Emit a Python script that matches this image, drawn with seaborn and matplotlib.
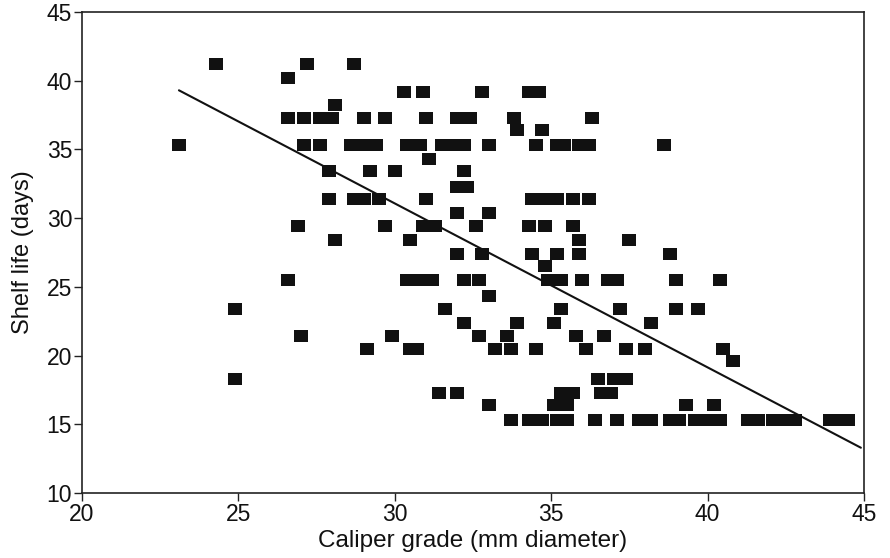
import matplotlib
matplotlib.use("Agg")
import matplotlib.pyplot as plt
import seaborn as sns
import numpy as np
import pandas as pd

# Caliper grade (mm diameter), listed row by row of shelf life
caliper = [
    24.3, 27.2, 28.7,
    26.6,
    30.3, 30.9, 32.8, 34.3, 34.6,
    28.1,
    26.6, 27.1, 27.6, 28.0, 29.0, 29.7, 31.0, 32.0, 32.4, 33.8, 36.3,
    33.9, 34.7,
    23.1, 27.1, 27.6, 28.6, 29.0, 29.4, 30.4, 30.8, 31.5, 31.9, 32.2, 33.0, 34.5, 35.2, 35.4, 35.9, 36.2, 38.6,
    31.1,
    27.9, 29.2, 30.0, 32.2,
    32.0, 32.3,
    27.9, 28.7, 29.0, 29.5, 31.0, 34.4, 34.8, 35.2, 35.7, 36.2,
    32.0, 33.0,
    26.9, 29.7, 30.9, 31.3, 32.6, 34.3, 34.8, 35.7,
    28.1, 30.5, 35.9, 37.5,
    32.0, 32.8, 34.4, 35.2, 35.9, 38.8,
    34.8,
    26.6, 30.4, 30.8, 31.2, 32.2, 32.7, 34.9, 35.3, 36.0, 36.8, 37.1, 39.0, 40.4,
    33.0,
    24.9, 31.6, 35.3, 37.2, 39.0, 39.7,
    32.2, 33.9, 35.1, 38.2,
    27.0, 29.9, 32.7, 33.6, 35.8, 36.7,
    29.1, 30.5, 30.7, 33.2, 33.7, 34.5, 36.1, 37.4, 38.0, 40.5,
    40.8,
    24.9, 36.5, 37.0, 37.4,
    31.4, 32.0, 35.3, 35.7, 36.6, 36.9,
    33.0, 35.1, 35.5, 39.3, 40.2,
    33.7, 34.3, 34.7, 35.2, 35.5, 36.4, 37.1, 37.8, 38.2, 38.8, 39.1, 39.6, 39.8,
    40.2, 40.4, 41.3, 41.6, 42.1, 42.4, 42.8, 43.9, 44.2, 44.5,
]

# Shelf life (days), one entry per point above
shelf_life = (
    [41.2] * 3 + [40.2] * 1 + [39.2] * 5 + [38.2] * 1 + [37.3] * 11 + [36.4] * 2
    + [35.3] * 18 + [34.3] * 1 + [33.4] * 4 + [32.3] * 2 + [31.4] * 10 + [30.4] * 2
    + [29.4] * 8 + [28.4] * 4 + [27.4] * 6 + [26.5] * 1 + [25.5] * 13 + [24.3] * 1
    + [23.4] * 6 + [22.4] * 4 + [21.4] * 6 + [20.5] * 10 + [19.6] * 1 + [18.3] * 4
    + [17.3] * 6 + [16.4] * 5 + [15.3] * 23
)

# Fitted trend line as printed in the chart
fit_intercept = 66.86
fit_slope = -1.193
fit_range = [23.1, 44.9]

x_ticks = [20, 25, 30, 35, 40, 45]
y_ticks = [10, 15, 20, 25, 30, 35, 40, 45]

df = pd.DataFrame({"caliper": caliper, "shelf": shelf_life})
fit_x = np.array(fit_range)
fit_df = pd.DataFrame({"caliper": fit_x, "shelf": fit_intercept + fit_slope * fit_x})

sns.set_style("white")
plt.rcParams["font.family"] = ["Liberation Sans", "DejaVu Sans"]

fig = plt.figure(figsize=(8.9, 5.58), dpi=100)
ax = fig.add_axes([0.0921, 0.1165, 0.8787, 0.862])

rect = [(-1.15, -1.0), (1.15, -1.0), (1.15, 1.0), (-1.15, 1.0), (-1.15, -1.0)]
sns.scatterplot(data=df, x="caliper", y="shelf", ax=ax, marker=rect, s=92,
                color="#111111", linewidth=0, zorder=3)
sns.lineplot(data=fit_df, x="caliper", y="shelf", ax=ax, color="#111111",
             linewidth=1.5, zorder=2)

ax.set_xlim(20, 45)
ax.set_ylim(10, 45)
ax.set_xticks(x_ticks)
ax.set_yticks(y_ticks)
ax.tick_params(axis="both", direction="out", length=6, width=1, labelsize=16.5,
               color="#222222", labelcolor="#111111", pad=1)
ax.tick_params(axis="x", bottom=True)
ax.tick_params(axis="y", left=True)
for s in ax.spines.values():
    s.set_visible(True)
    s.set_color("#222222")
    s.set_linewidth(1.2)
ax.set_xlabel("Caliper grade (mm diameter)", fontsize=17.5, color="#111111", labelpad=3)
ax.set_ylabel("Shelf life (days)", fontsize=17, color="#111111", labelpad=9)

fig.savefig("out.png", dpi=100, facecolor="white")
